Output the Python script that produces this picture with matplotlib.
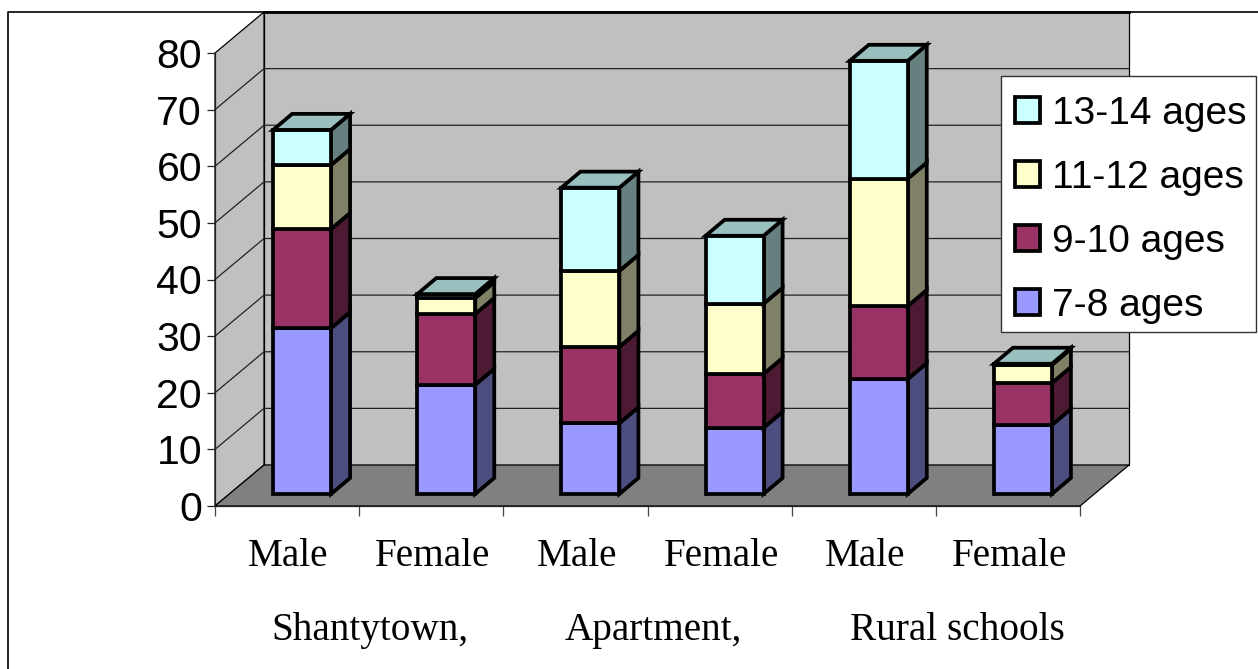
import matplotlib
matplotlib.use('Agg')
import matplotlib.pyplot as plt
from matplotlib.patches import Polygon, Patch, Rectangle
from matplotlib.lines import Line2D

sex = ['Male', 'Female', 'Male', 'Female', 'Male', 'Female']
groups = ['Shantytown,', 'Apartment,', 'Rural schools']
y_ticks = [0, 10, 20, 30, 40, 50, 60, 70, 80]

age_names = ['7-8 ages', '9-10 ages', '11-12 ages', '13-14 ages']
age_7_8 = [29.3, 19.3, 12.5, 11.7, 20.3, 12.2]
age_9_10 = [17.5, 12.5, 13.5, 9.5, 12.9, 7.4]
age_11_12 = [11.3, 2.8, 13.4, 12.4, 22.5, 3.2]
age_13_14 = [6.2, 0.7, 14.7, 12.0, 20.8, 0.2]
series = [age_7_8, age_9_10, age_11_12, age_13_14]

front = ['#9999FF', '#993366', '#FFFFCC', '#CCFFFF']
side = ['#4D4D80', '#4D1A33', '#808066', '#668080']
top = ['#7373BF', '#73264D', '#BFBF99', '#99BFBF']

W, H = 1258, 669
fig = plt.figure(figsize=(W / 100, H / 100), dpi=100)
ax = fig.add_axes([215 / W, (H - 506) / H, 865 / W, 453 / H])
ax.set_xlim(0, 6)
ax.set_ylim(0, 80)
ax.patch.set_visible(False)

# fake 3d offsets in data units
wall_dx, wall_dy = 0.34, 7.24
bar_off, bar_base = 0.104, 2.12
bar_w = 0.402
dep_x, dep_y = 0.132, 2.83
lw_bar = 2.7
lw_thin = 0.9


def poly(pts, fc, ec='black', lw=lw_bar, z=2):
    ax.add_patch(Polygon(pts, closed=True, facecolor=fc, edgecolor=ec, linewidth=lw,
                         zorder=z, clip_on=False, joinstyle='miter'))


# walls and floor
poly([(wall_dx, wall_dy), (6 + wall_dx, wall_dy), (6 + wall_dx, 80 + wall_dy), (wall_dx, 80 + wall_dy)],
     '#C0C0C0', lw=lw_thin, z=1)
poly([(0, 0), (wall_dx, wall_dy), (wall_dx, 80 + wall_dy), (0, 80)], '#C0C0C0', lw=lw_thin, z=1)
poly([(0, 0), (6, 0), (6 + wall_dx, wall_dy), (wall_dx, wall_dy)], '#808080', lw=lw_thin, z=1)
ax.plot([wall_dx, 6 + wall_dx], [80 + wall_dy] * 2, color='black', lw=2, zorder=1.5, clip_on=False)
for v in y_ticks[1:-1]:
    ax.plot([0, wall_dx, 6 + wall_dx], [v, v + wall_dy, v + wall_dy], color='#222222', lw=lw_thin,
            zorder=1.5, clip_on=False)

# stacked boxes
for i in range(6):
    x0 = i + 0.5 - bar_w / 2 + bar_off
    x1 = x0 + bar_w
    bottom = bar_base
    for k, vals in enumerate(series):
        t = bottom + vals[i]
        poly([(x1, bottom), (x1 + dep_x, bottom + dep_y), (x1 + dep_x, t + dep_y), (x1, t)], side[k], z=3)
        poly([(x0, bottom), (x1, bottom), (x1, t), (x0, t)], front[k], z=3)
        bottom = t
    poly([(x0, bottom), (x1, bottom), (x1 + dep_x, bottom + dep_y), (x0 + dep_x, bottom + dep_y)], top[3], z=3)

# axes
for s in ['top', 'right']:
    ax.spines[s].set_visible(False)
for s in ['left', 'bottom']:
    ax.spines[s].set_linewidth(lw_thin)
    ax.spines[s].set_color('#222222')
ax.set_yticks(y_ticks)
ax.set_yticklabels([str(v) for v in y_ticks], fontfamily='Liberation Sans', fontsize=29.5)
ax.set_xticks(range(7))
ax.set_xticklabels([])
ax.tick_params(axis='y', length=5.8, width=lw_thin, pad=3.5, color='#222222')
ax.tick_params(axis='x', length=7.2, width=lw_thin, color='#444444')

for i, name in enumerate(sex):
    ax.annotate(name, (i + 0.5, 0), xytext=(1.5, -60), textcoords='offset pixels', ha='center',
                va='baseline', fontfamily='Liberation Serif', fontsize=28.3, annotation_clip=False)
group_x = [1.075, 3.04, 5.15]
for gx, name in zip(group_x, groups):
    ax.annotate(name, (gx, 0), xytext=(0, -134), textcoords='offset pixels', ha='center',
                va='baseline', fontfamily='Liberation Serif', fontsize=28.3, annotation_clip=False)

# legend, box drawn apart so the padding can differ per side
fig.add_artist(Rectangle((1001 / W, 1 - 332 / H), 255 / W, 256 / H, transform=fig.transFigure,
                         facecolor='white', edgecolor='#333333', linewidth=1, zorder=9))
handles = [Patch(facecolor=front[k], edgecolor='black', linewidth=lw_bar, label=age_names[k])
           for k in range(3, -1, -1)]
leg = fig.legend(handles=handles, loc='upper left', bbox_to_anchor=(1001 / W, 1 - 82 / H),
                 borderaxespad=0, prop={'family': 'Liberation Sans', 'size': 28},
                 handlelength=0.65, handleheight=0.65, handletextpad=0.32, labelspacing=0.72,
                 borderpad=0.35, frameon=False)
leg.set_zorder(10)

# chart area border, only left and top show
fig.add_artist(Line2D([8 / W, 8 / W, 1], [0, 1 - 12 / H, 1 - 12 / H], color='black', lw=1.2))

fig.savefig('out.png', dpi=100)
